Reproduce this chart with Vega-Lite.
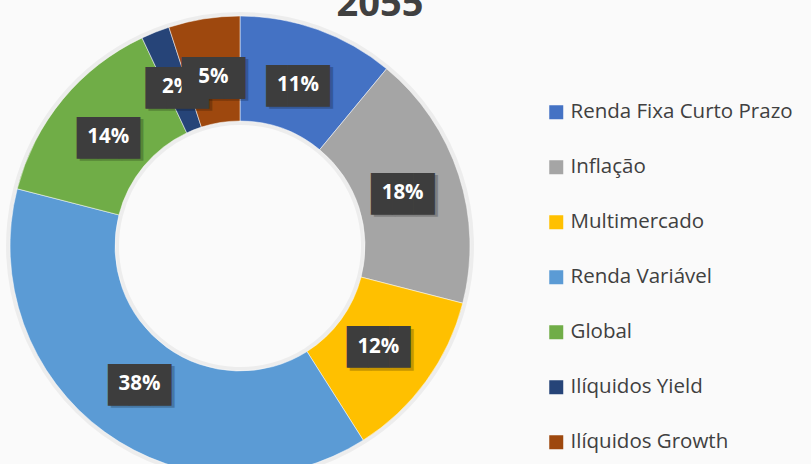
{
  "$schema": "https://vega.github.io/schema/vega-lite/v6.json",
  "width": 480,
  "height": 492,
  "autosize": {"type": "none"},
  "padding": {"left": 0, "top": 0, "right": 331, "bottom": 0},
  "background": "#fafafa",
  "title": {
    "text": "2055",
    "fontSize": 38,
    "font": "Open Sans",
    "fontWeight": "bold",
    "color": "#404040",
    "anchor": "middle",
    "dx": 140,
    "dy": 24,
    "offset": 0
  },
  "data": {
    "values": [
      {"cat": "Renda Fixa Curto Prazo", "v": 11, "o": 1, "lbl": "11%"},
      {"cat": "Inflação", "v": 18, "o": 2, "lbl": "18%"},
      {"cat": "Multimercado", "v": 12, "o": 3, "lbl": "12%"},
      {"cat": "Renda Variável", "v": 38, "o": 4, "lbl": "38%"},
      {"cat": "Global", "v": 14, "o": 5, "lbl": "14%"},
      {"cat": "Ilíquidos Yield", "v": 2, "o": 6, "lbl": "2%"},
      {"cat": "Ilíquidos Growth", "v": 5, "o": 7, "lbl": "5%"}
    ]
  },
  "encoding": {
    "theta": {"field": "v", "type": "quantitative", "stack": true},
    "order": {"field": "o", "type": "quantitative"}
  },
  "layer": [
    {
      "mark": {"type": "arc", "outerRadius": 234, "innerRadius": 121, "color": "#000000", "opacity": 0.05}
    },
    {
      "mark": {"type": "arc", "outerRadius": 230, "innerRadius": 125, "stroke": "#ffffff", "strokeWidth": 0.5},
      "encoding": {
        "color": {
          "field": "cat",
          "type": "nominal",
          "sort": null,
          "scale": {
            "domain": ["Renda Fixa Curto Prazo", "Inflação", "Multimercado", "Renda Variável", "Global", "Ilíquidos Yield", "Ilíquidos Growth"],
            "range": ["#4472C4", "#A5A5A5", "#FFC000", "#5B9BD5", "#70AD47", "#264478", "#9E480E"]
          },
          "legend": {
            "title": null,
            "orient": "none",
            "legendX": 546,
            "legendY": 102,
            "symbolType": "square",
            "symbolSize": 196,
            "symbolStrokeWidth": 0,
            "symbolOpacity": 1,
            "labelFont": "Open Sans",
            "labelFontSize": 20.5,
            "labelColor": "#404040",
            "labelOffset": 4,
            "rowPadding": 34,
            "labelLimit": 300
          }
        }
      }
    },
    {
      "mark": {"type": "text", "radius": 171, "font": "DejaVu Sans Mono", "fontSize": 35, "color": "#000000", "opacity": 0.22, "dx": 3, "dy": 4},
      "encoding": {"text": {"value": "███"}}
    },
    {
      "mark": {"type": "text", "radius": 171, "font": "DejaVu Sans Mono", "fontSize": 35, "color": "#3d3d3d", "dy": 1.5},
      "encoding": {"text": {"value": "███"}}
    },
    {
      "mark": {"type": "text", "radius": 171, "font": "Open Sans", "fontWeight": "bold", "fontSize": 20.5, "color": "#ffffff"},
      "encoding": {"text": {"field": "lbl"}}
    },
    {
      "mark": {"type": "text", "radius": 171, "font": "DejaVu Sans Mono", "fontSize": 35, "color": "#3d3d3d", "dy": 1.5},
      "encoding": {
        "text": {"value": "███"},
        "opacity": {"condition": {"test": "datum.o == 7", "value": 1}, "value": 0}
      }
    },
    {
      "mark": {"type": "text", "radius": 171, "font": "Open Sans", "fontWeight": "bold", "fontSize": 20.5, "color": "#ffffff"},
      "encoding": {
        "text": {"field": "lbl"},
        "opacity": {"condition": {"test": "datum.o == 7", "value": 1}, "value": 0}
      }
    }
  ],
  "config": {"view": {"stroke": null}}
}
